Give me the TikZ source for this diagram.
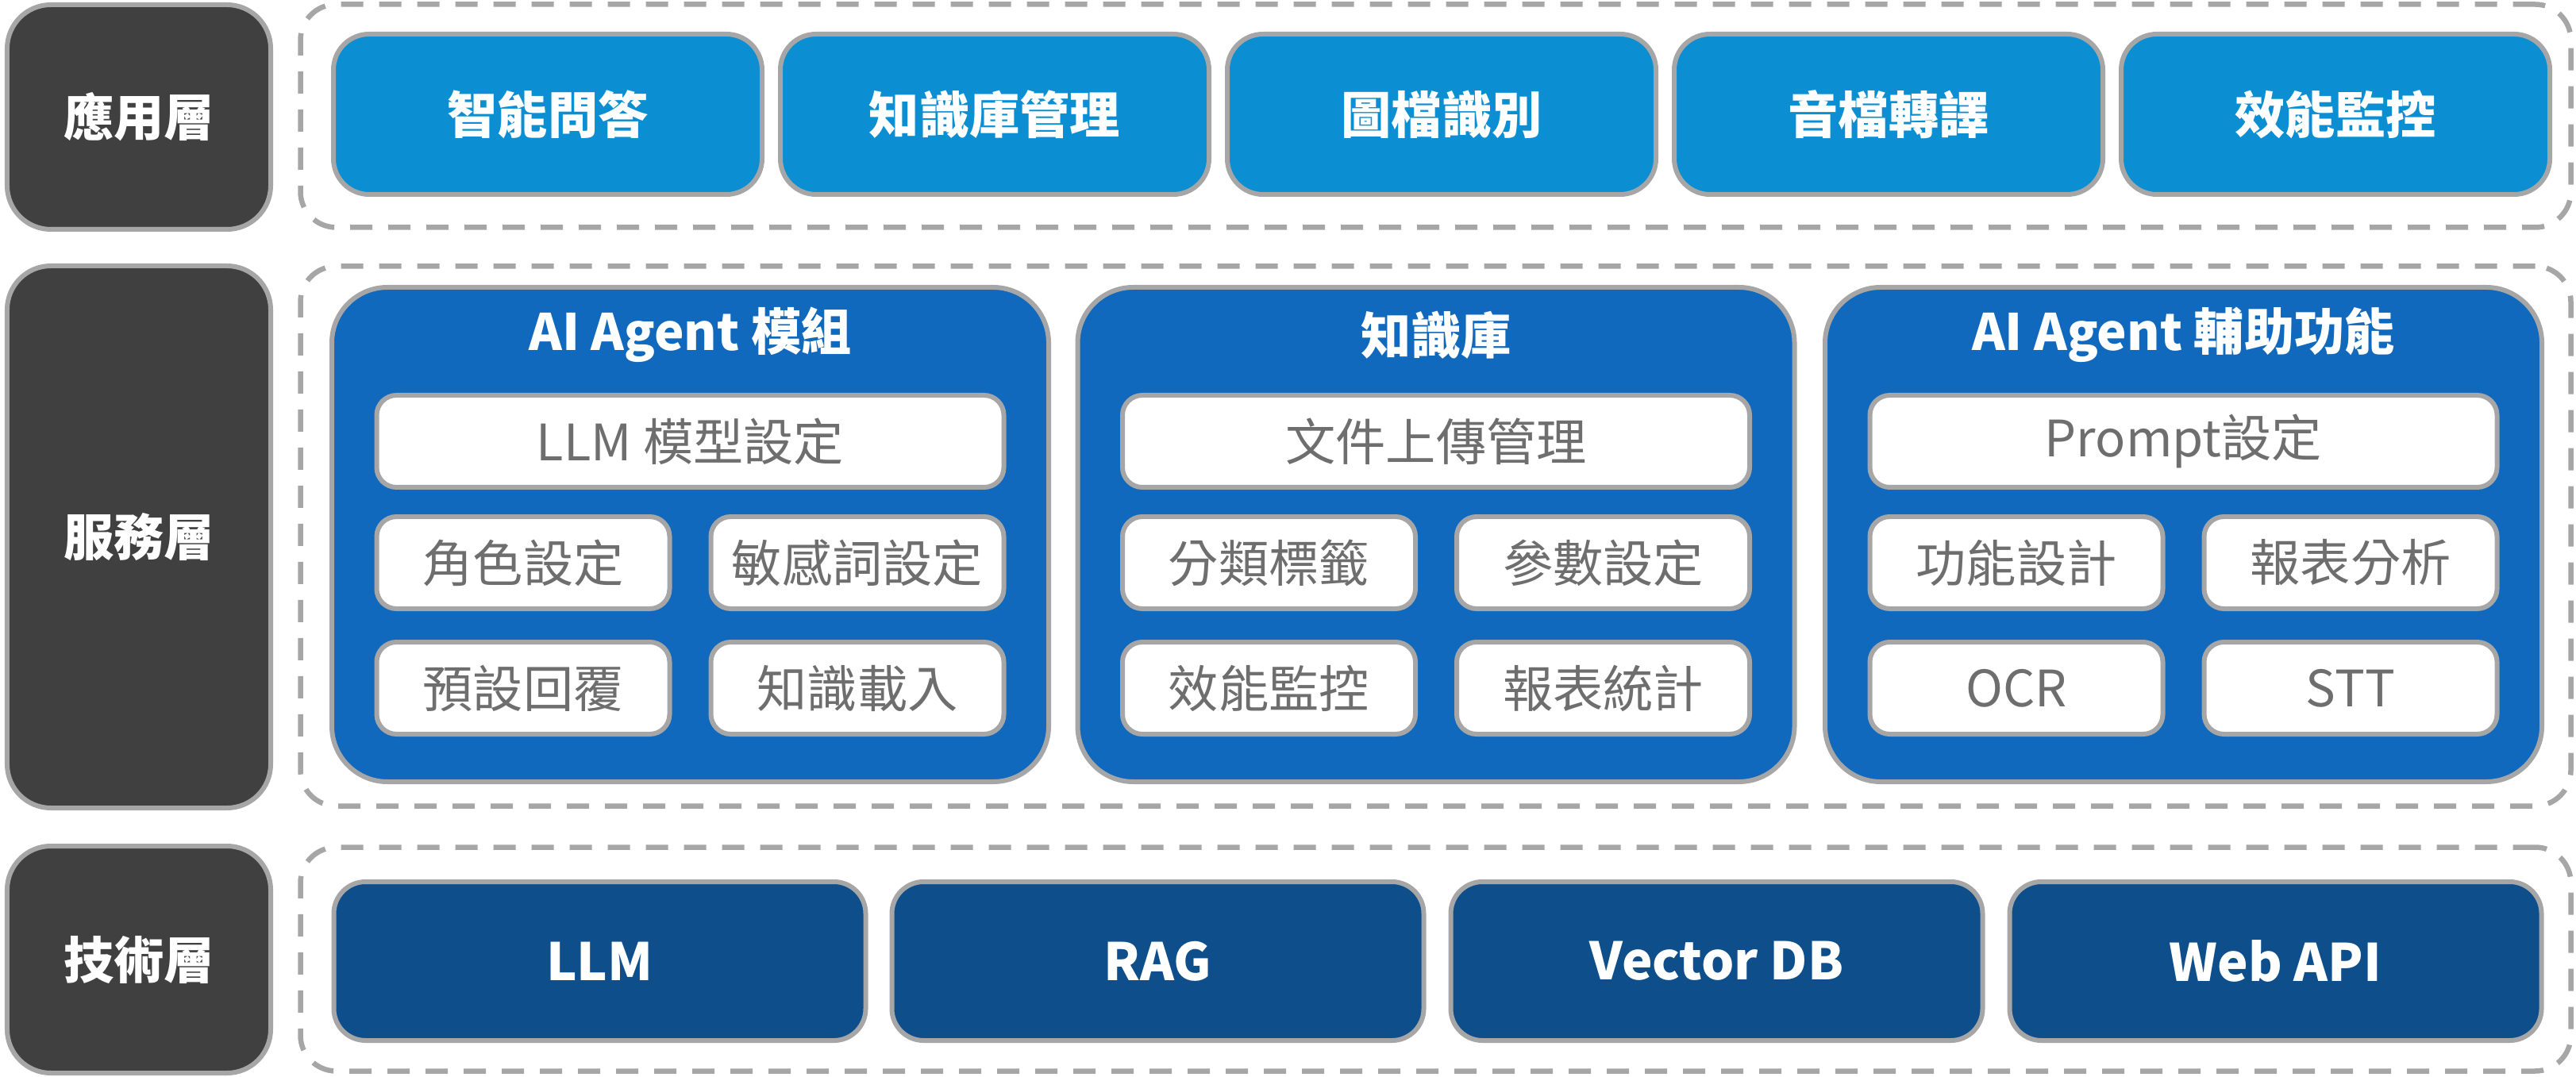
\documentclass[tikz,border=0pt]{standalone}
\usepackage{fontspec}
\setmainfont{Noto Sans CJK TC}
\usepackage{tikz}

\definecolor{layergray}{HTML}{404040}
\definecolor{edgegray}{HTML}{A6A6A6}
\definecolor{textgray}{HTML}{6E6E6E}
\definecolor{appblue}{HTML}{0B8FD2}
\definecolor{moduleblue}{HTML}{1069BC}
\definecolor{techblue}{HTML}{0D4E8B}

\begin{document}
\begin{tikzpicture}[
  layerbox/.style={draw=edgegray, line width=0.06cm, fill=layergray, rounded corners=0.55cm,
    minimum width=3.32cm, inner sep=0pt, text=white, font=\fontsize{18}{20}\selectfont\bfseries},
  groupframe/.style={draw=edgegray, line width=0.065cm, dash pattern=on 0.28cm off 0.20cm,
    rounded corners=0.45cm, minimum width=28.6cm, inner sep=0pt},
  appbox/.style={draw=edgegray, line width=0.06cm, fill=appblue, rounded corners=0.45cm,
    minimum width=5.40cm, minimum height=2.02cm, inner sep=0pt, text=white,
    font=\fontsize{18}{20}\selectfont\bfseries},
  modulebox/.style={draw=edgegray, line width=0.06cm, fill=moduleblue, rounded corners=0.7cm,
    minimum width=9.03cm, minimum height=6.23cm, inner sep=0pt},
  moduletitle/.style={text=white, inner sep=0pt, font=\fontsize{18}{20}\selectfont\bfseries},
  itembox/.style={draw=edgegray, line width=0.06cm, fill=white, rounded corners=0.25cm,
    minimum height=1.16cm, inner sep=0pt, text=textgray, font=\fontsize{18}{20}\selectfont},
  techbox/.style={draw=edgegray, line width=0.06cm, fill=techblue, rounded corners=0.4cm,
    minimum width=6.70cm, minimum height=2.00cm, inner sep=0pt, text=white,
    font=\fontsize{18.5}{20}\selectfont\bfseries},
]
  \useasboundingbox (0,0) rectangle (32.45,13.56);

  \node[layerbox, minimum height=2.83cm] (appLayer) at (1.75,12.085) {應用層};
  \node[layerbox, minimum height=6.83cm] (serviceLayer) at (1.75,6.795) {服務層};
  \node[layerbox, minimum height=2.86cm] (techLayer) at (1.75,1.47) {技術層};

  \node[groupframe, minimum height=2.81cm] (appFrame) at (18.085,12.10) {};
  \node[groupframe, minimum height=6.80cm] (serviceFrame) at (18.085,6.805) {};
  \node[groupframe, minimum height=2.82cm] (techFrame) at (18.085,1.475) {};

  \node[appbox] (appQA) at (6.90,12.12) {智能問答};
  \node[appbox] (appKB) at (12.53,12.12) {知識庫管理};
  \node[appbox] (appImage) at (18.16,12.12) {圖檔識別};
  \node[appbox] (appAudio) at (23.79,12.12) {音檔轉譯};
  \node[appbox] (appMonitor) at (29.42,12.12) {效能監控};

  \node[modulebox] (agentModule) at (8.695,6.825) {};
  \node[modulebox] (kbModule) at (18.09,6.825) {};
  \node[modulebox] (helperModule) at (27.505,6.825) {};

  \node[moduletitle] (agentTitle) at (8.695,9.34) {AI Agent 模組};
  \node[moduletitle] (kbTitle) at (18.09,9.34) {知識庫};
  \node[moduletitle] (helperTitle) at (27.505,9.34) {AI Agent 輔助功能};

  \node[itembox, minimum width=7.90cm] (llmSet) at (8.695,8.00) {LLM 模型設定};
  \node[itembox, minimum width=3.69cm] (roleSet) at (6.59,6.47) {角色設定};
  \node[itembox, minimum width=3.69cm] (wordSet) at (10.80,6.47) {敏感詞設定};
  \node[itembox, minimum width=3.69cm] (replySet) at (6.59,4.89) {預設回覆};
  \node[itembox, minimum width=3.69cm] (kbLoad) at (10.80,4.89) {知識載入};

  \node[itembox, minimum width=7.90cm] (docUpload) at (18.09,8.00) {文件上傳管理};
  \node[itembox, minimum width=3.69cm] (tagSort) at (15.985,6.47) {分類標籤};
  \node[itembox, minimum width=3.69cm] (paramSet) at (20.195,6.47) {參數設定};
  \node[itembox, minimum width=3.69cm] (perfMon) at (15.985,4.89) {效能監控};
  \node[itembox, minimum width=3.69cm] (reportStat) at (20.195,4.89) {報表統計};

  \node[itembox, minimum width=7.90cm] (promptSet) at (27.505,8.00) {Prompt設定};
  \node[itembox, minimum width=3.69cm] (funcDesign) at (25.40,6.47) {功能設計};
  \node[itembox, minimum width=3.69cm] (reportAna) at (29.61,6.47) {報表分析};
  \node[itembox, minimum width=3.69cm] (ocrItem) at (25.40,4.89) {OCR};
  \node[itembox, minimum width=3.69cm] (sttItem) at (29.61,4.89) {STT};

  \node[techbox] (techLLM) at (7.555,1.45) {LLM};
  \node[techbox] (techRAG) at (14.585,1.45) {RAG};
  \node[techbox] (techVector) at (21.625,1.45) {Vector DB};
  \node[techbox] (techAPI) at (28.665,1.45) {Web API};
\end{tikzpicture}
\end{document}
